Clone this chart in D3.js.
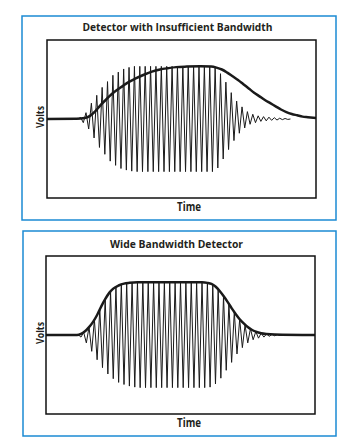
<!DOCTYPE html>
<html><head><meta charset="utf-8">
<script src="https://cdn.jsdelivr.net/npm/d3@7"></script>
<style>html,body{margin:0;padding:0;background:#fff;} svg{display:block}</style>
</head><body><svg id="chart" width="361" height="446"></svg>
<script>
// ---------------- data ----------------
const titles = ["Detector with Insufficient Bandwidth", "Wide Bandwidth Detector"];
const xLabel = "Time";
const yLabel = "Volts";
const carrierPeriod = 2;            // time units per carrier cycle

// Panel 1: detector with insufficient bandwidth
const burstStart1 = 12.5;           // time of first positive peak
const upperPeaks1 = [0.03,0.12,0.30,0.45,0.60,0.71,0.83,0.89,0.95,0.98,
  1,1,1,1,1,1,1,1,1,1,1,1,1,1,1,
  0.98,0.86,0.70,0.50,0.34,0.23,0.14,0.09,0.06,0.045,0.035,0.025,0.015,0.01];
const lowerPeaks1 = [0.07,0.19,0.36,0.54,0.67,0.80,0.88,0.94,0.97,0.99,
  1,1,1,1,1,1,1,1,1,1,1,1,1,1,1,
  0.93,0.76,0.58,0.41,0.27,0.17,0.10,0.07,0.045,0.035,0.025,0.02,0.012,0.008];
const envTime1  = [0,11,14,16,18,20,22,24,26,28,30,33,36,39,42,45,48,52,57,61,63,65,67,69,71,73,75,77,79,81,83,85,87,89,91,93,95,97,100];
const envVolts1 = [0,0.005,0.02,0.06,0.15,0.27,0.37,0.47,0.55,0.62,0.69,0.77,0.84,0.9,0.94,0.965,0.985,0.995,1.0,0.995,0.975,0.94,0.88,0.81,0.74,0.66,0.58,0.5,0.43,0.36,0.3,0.24,0.18,0.13,0.095,0.07,0.045,0.035,0.02];

// Panel 2: wide bandwidth detector
const burstStart2 = 12;
const upperPeaks2 = [0.005,0.05,0.15,0.29,0.49,0.68,0.82,0.91,0.96,0.985,0.995,
  1,1,1,1,1,1,1,1,1,1,1,1,1,
  0.99,0.955,0.87,0.74,0.59,0.44,0.30,0.19,0.12,0.065,0.035,0.02,0.012,0.008,0.005];
const lowerPeaks2 = [0.04,0.15,0.31,0.47,0.62,0.74,0.83,0.90,0.94,0.97,0.99,
  1,1,1,1,1,1,1,1,1,1,1,1,1,
  0.99,0.93,0.82,0.67,0.52,0.36,0.24,0.15,0.09,0.06,0.04,0.025,0.015,0.01,0.005];
const envTime2  = [0,11.5,13,14.5,16,17.5,19,20.5,22,23.5,25,27,29,31,34,58,60,61.5,63,64.5,66,67.5,69,70.5,72,73.5,75,76.5,78,80,82,85,100];
const envVolts2 = [0,0,0.02,0.07,0.15,0.25,0.38,0.54,0.68,0.8,0.88,0.94,0.975,0.99,1.0,1.0,0.99,0.97,0.92,0.84,0.74,0.63,0.51,0.4,0.3,0.22,0.15,0.1,0.065,0.035,0.02,0.01,0];

// ---------------- layout ----------------
const panels = [
  {title: titles[0], start: burstStart1, upper: upperPeaks1, lower: lowerPeaks1, envT: envTime1, envV: envVolts1,
   frame: {x: 22, y: 16, w: 314, h: 204}, plot: {x: 47, y: 40, w: 269, h: 158},
   titleY: 31, titleW: 190, timeY: 211, voltsX: 44, voltsY: 117},
  {title: titles[1], start: burstStart2, upper: upperPeaks2, lower: lowerPeaks2, envT: envTime2, envV: envVolts2,
   frame: {x: 23, y: 231, w: 313, h: 205}, plot: {x: 46, y: 256, w: 269, h: 158},
   titleY: 247.5, titleW: 133, timeY: 427, voltsX: 44, voltsY: 333}
];

const svg = d3.select("#chart");
const textColor = "#231f20";
const blue = "#1b8ad3";
const font = "'Open Sans', 'Liberation Sans', sans-serif";

panels.forEach(p => {
  const g = svg.append("g");
  g.append("rect").attr("x", p.frame.x).attr("y", p.frame.y)
    .attr("width", p.frame.w).attr("height", p.frame.h)
    .attr("fill", "none").attr("stroke", blue).attr("stroke-width", 1.5);

  const x = d3.scaleLinear().domain([0, 100]).range([p.plot.x, p.plot.x + p.plot.w]);
  const y = d3.scaleLinear().domain([-1.5, 1.5]).range([p.plot.y + p.plot.h, p.plot.y]);
  const cycle = d3.scaleLinear().domain([0, 1]).range([p.start, p.start + carrierPeriod]);

  const clipId = "clip" + p.plot.y;
  svg.append("clipPath").attr("id", clipId).append("rect")
    .attr("x", p.plot.x).attr("y", p.plot.y).attr("width", p.plot.w).attr("height", p.plot.h);

  // carrier burst as zig-zag between positive and negative peaks
  const pts = [[cycle(-0.5), 0]];
  p.upper.forEach((u, k) => {
    pts.push([cycle(k), u]);
    pts.push([cycle(k + 0.5), -p.lower[k]]);
  });
  pts.push([cycle(p.upper.length), 0]);

  const line = d3.line().x(d => x(d[0])).y(d => y(d[1]));
  const inner = g.append("g").attr("clip-path", `url(#${clipId})`);
  inner.append("path").datum(pts).attr("d", line)
    .attr("fill", "none").attr("stroke", "#1a1a1a").attr("stroke-width", 1)
    .attr("stroke-linejoin", "miter");

  const envLine = d3.line().x(d => x(d[0])).y(d => y(d[1])).curve(d3.curveMonotoneX);
  inner.append("path").datum(p.envT.map((t, i) => [t, p.envV[i]])).attr("d", envLine)
    .attr("fill", "none").attr("stroke", "#1a1a1a").attr("stroke-width", 2.5);

  g.append("rect").attr("x", p.plot.x).attr("y", p.plot.y)
    .attr("width", p.plot.w).attr("height", p.plot.h)
    .attr("fill", "none").attr("stroke", "#111").attr("stroke-width", 1.5);

  g.append("text").text(p.title)
    .attr("x", p.plot.x + p.plot.w / 2 - 4).attr("y", p.titleY)
    .attr("text-anchor", "middle").attr("font-family", font).attr("font-weight", "bold")
    .attr("font-size", 11).attr("fill", textColor)
    .attr("textLength", p.titleW).attr("lengthAdjust", "spacingAndGlyphs");

  g.append("text").text(xLabel)
    .attr("x", 189).attr("y", p.timeY)
    .attr("text-anchor", "middle").attr("font-family", font).attr("font-weight", "bold")
    .attr("font-size", 11.5).attr("fill", textColor)
    .attr("textLength", 24).attr("lengthAdjust", "spacingAndGlyphs");

  g.append("text").text(yLabel)
    .attr("transform", `translate(${p.voltsX},${p.voltsY}) rotate(-90)`)
    .attr("text-anchor", "middle").attr("font-family", font).attr("font-weight", "bold")
    .attr("font-size", 11).attr("fill", textColor)
    .attr("textLength", 22).attr("lengthAdjust", "spacingAndGlyphs");
});
</script></body></html>
